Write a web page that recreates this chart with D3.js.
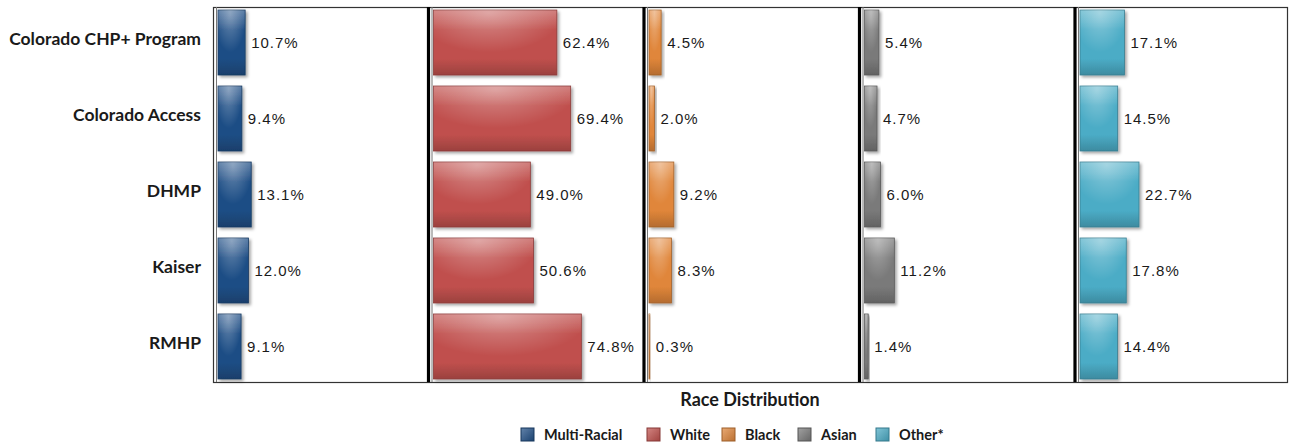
<!DOCTYPE html>
<html><head><meta charset="utf-8">
<script src="https://cdn.jsdelivr.net/npm/d3@7"></script>
<style>
html,body{margin:0;padding:0;background:#fff;}
svg{display:block;}
</style></head>
<body>
<svg id="chart" width="1289" height="446"></svg>
<script>
// ---- data ----
const categories = ["Colorado CHP+ Program","Colorado Access","DHMP","Kaiser","RMHP"];
const seriesNames = ["Multi-Racial","White","Black","Asian","Other*"];
const multiRacial = [10.7, 9.4, 13.1, 12.0, 9.1];
const white = [62.4, 69.4, 49.0, 50.6, 74.8];
const black = [4.5, 2.0, 9.2, 8.3, 0.3];
const asian = [5.4, 4.7, 6.0, 11.2, 1.4];
const other = [17.1, 14.5, 22.7, 17.8, 14.4];
const panelMax = [83, 106.5, 78, 79, 81];
const colors = ["#1f4e85", "#c0504d", "#e0863a", "#7a7a7a", "#4bacc6"];
const xTitle = "Race Distribution";

const seriesValues = [multiRacial, white, black, asian, other];

const svg = d3.select("#chart");
const plotL = 213, plotR = 1290.5, plotT = 7, plotB = 382;

const defs = svg.append("defs");
const filt = defs.append("filter").attr("id","shadow").attr("x","-20%").attr("y","-20%").attr("width","150%").attr("height","150%");
filt.append("feDropShadow").attr("dx",2).attr("dy",2).attr("stdDeviation",1.6).attr("flood-color","#000").attr("flood-opacity",0.35);

colors.forEach((c,i)=>{
  const base = d3.color(c);
  const lg = defs.append("linearGradient").attr("id","lg"+i).attr("x1",0).attr("y1",0).attr("x2",0).attr("y2",1);
  lg.append("stop").attr("offset","0%").attr("stop-color", d3.interpolateRgb(c,"#fff")(0.25));
  lg.append("stop").attr("offset","30%").attr("stop-color", c);
  lg.append("stop").attr("offset","75%").attr("stop-color", c);
  lg.append("stop").attr("offset","100%").attr("stop-color", base.darker(0.6));
  const rg = defs.append("radialGradient").attr("id","rg"+i).attr("cx","0.45").attr("cy","0.05").attr("r","0.6");
  rg.append("stop").attr("offset","0%").attr("stop-color","#fff").attr("stop-opacity",0.35);
  rg.append("stop").attr("offset","100%").attr("stop-color","#fff").attr("stop-opacity",0);
  const sg = defs.append("linearGradient").attr("id","sg"+i).attr("x1",0).attr("y1",0).attr("x2",1).attr("y2",1);
  sg.append("stop").attr("offset","0%").attr("stop-color", d3.interpolateRgb(c,"#fff")(0.3));
  sg.append("stop").attr("offset","100%").attr("stop-color", base.darker(0.5));
});

const panel = d3.scaleBand().domain(seriesNames).range([plotL, plotR]);
const y = d3.scaleBand().domain(categories).range([plotT, plotB]).paddingInner(0.145).paddingOuter(0.04);

// frame
svg.append("rect").attr("x",plotL+0.5).attr("y",plotT+0.5).attr("width",1287.5-plotL-0.5).attr("height",plotB-plotT)
  .attr("fill","none").attr("stroke","#333").attr("stroke-width",1.2);

seriesNames.forEach((s,i)=>{
  const x0 = panel(s);
  const bx = x0 + 5;
  const x = d3.scaleLinear().domain([0, panelMax[i]]).range([bx, bx + panel.bandwidth() - 5]);
  const g = svg.append("g");
  if (i > 0) {
    g.append("line").attr("x1",x0).attr("x2",x0).attr("y1",plotT).attr("y2",plotB).attr("stroke","#000").attr("stroke-width",3.2);
  }
  g.append("line").attr("x1",bx-1.5).attr("x2",bx-1.5).attr("y1",plotT).attr("y2",plotB).attr("stroke","#777").attr("stroke-width",1);
  const vals = seriesValues[i];
  categories.forEach((c,j)=>{
    const v = vals[j];
    const w = x(v) - x(0);
    g.append("rect").attr("x",x(0)).attr("y",y(c)).attr("width",w).attr("height",y.bandwidth())
      .attr("fill","url(#lg"+i+")").attr("stroke", d3.color(colors[i]).darker(0.9)).attr("stroke-width",0.8)
      .attr("filter","url(#shadow)");
    g.append("rect").attr("x",x(0)).attr("y",y(c)).attr("width",w).attr("height",y.bandwidth())
      .attr("fill","url(#rg"+i+")");
    g.append("text").attr("x",x(v)+6).attr("y",y(c)+y.bandwidth()/2).attr("dy","0.36em")
      .attr("font-family","'Liberation Sans', Arial, sans-serif").attr("font-size",15)
      .attr("letter-spacing","1px").attr("fill","#1a1a1a")
      .text(v.toFixed(1)+"%");
  });
});

// category labels
categories.forEach(c=>{
  svg.append("text").attr("x",201).attr("y",y(c)+y.bandwidth()/2-4).attr("dy","0.36em")
    .attr("text-anchor","end").attr("font-family","Lato, 'Open Sans', sans-serif").attr("font-weight",700)
    .attr("font-size",17.5).attr("fill","#1a1a1a").text(c);
});

// x title
svg.append("text").attr("x",(plotL+1287)/2).attr("y",400).attr("dy","0.36em").attr("text-anchor","middle")
  .attr("font-family","Lato, 'Open Sans', sans-serif").attr("font-weight",700).attr("font-size",18).attr("fill","#1a1a1a")
  .text(xTitle);

// legend
const legendX = [521, 647, 722, 798, 876];
seriesNames.forEach((s,i)=>{
  const lg = svg.append("g").attr("transform",`translate(${legendX[i]},428)`);
  lg.append("rect").attr("width",13).attr("height",13).attr("fill","url(#sg"+i+")").attr("stroke",d3.color(colors[i]).darker(1)).attr("stroke-width",1);
  lg.append("text").attr("x",23).attr("y",6.5).attr("dy","0.36em").attr("font-family","Lato, 'Open Sans', sans-serif")
    .attr("font-weight",700).attr("font-size",14.5).attr("fill","#1a1a1a").text(s);
});
</script>
</body></html>
